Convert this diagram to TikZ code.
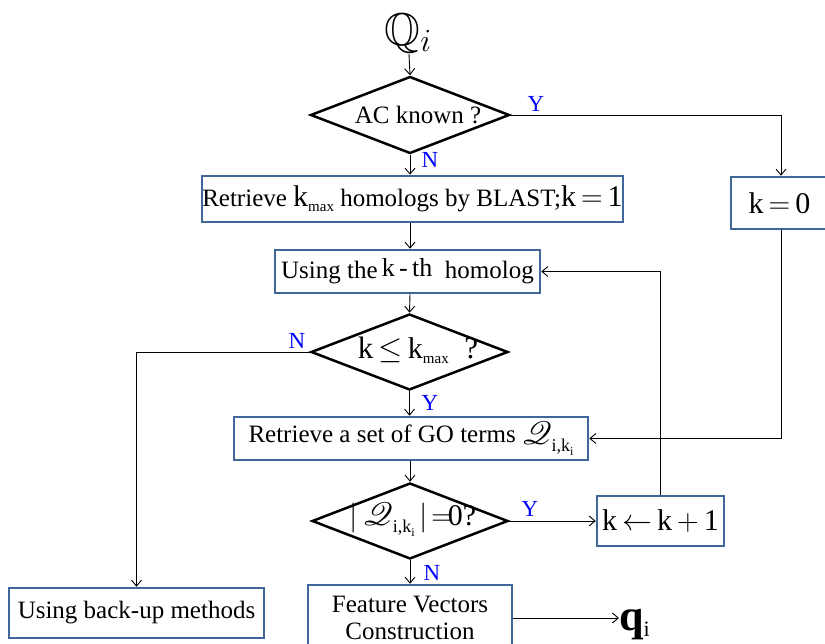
\RequirePackage{fix-cm}
\documentclass[tikz,border=0pt]{standalone}
\usepackage{amssymb}
\usepackage{mathrsfs}
\usepackage{fontspec}
\setmainfont{Liberation Serif}
\usetikzlibrary{shapes.geometric,arrows.meta}
\definecolor{boxblue}{HTML}{41679A}
\definecolor{lblblue}{HTML}{0000FF}
\newcommand{\fs}[1]{\fontsize{#1}{#1}\selectfont}
\newcommand{\kmaxtxt}{{\fs{30}k}\raisebox{-5pt}{\fs{15}max}}
\newcommand{\qik}{\scalebox{1.3}{\fs{24.88}$\mathscr{Q}$}\raisebox{-7pt}{\fs{18}i,k\raisebox{-4pt}{\fs{12}i}}}
\tikzset{
  box/.style={draw=boxblue, line width=2.5pt, inner sep=0pt, font=\fs{25}},
  dia/.style={diamond, draw=black, line width=2.5pt, aspect=2.55, inner sep=0pt},
  conn/.style={line width=0.9pt, -{Straight Barb[length=6pt,width=10pt,line width=0.9pt]}},
  lbl/.style={text=lblblue, font=\fs{23}, inner sep=0pt}
}
\begin{document}
\begin{tikzpicture}[x=1pt,y=-1pt]
\useasboundingbox (0,0) rectangle (825,644);
\clip (0,0) rectangle (825,644);
\fill[white] (0,0) rectangle (825,644);
% nodes
\node[inner sep=1pt] (q) at (408,33) {\fs{46}$\mathbb{Q}_{i}$};
\node[dia, minimum width=199pt, minimum height=77pt] (d1) at (410,115) {};
\node[font=\fs{25}] at (418,115) {AC known ?};
\node[box, minimum width=421pt, minimum height=46pt] (b1) at (412.5,199)
  {Retrieve \kmaxtxt\ homologs by BLAST;{\fs{30}k\,$=$\,1}};
\node[box, minimum width=100pt, minimum height=52pt, font=\fs{30}] (k0) at (781,203) {k\,$=$\,0\hspace*{3pt}};
\node[box, minimum width=265pt, minimum height=43pt] (b2) at (407.5,271.5)
  {Using the\,\raisebox{2pt}{\fs{26}k\,-\,th}\enspace homolog};
\node[dia, minimum width=197pt, minimum height=76pt] (d2) at (409.5,352) {};
\node[font=\fs{31}] at (418,350) {k\,$\leq$\,\kmaxtxt\enspace ?};
\node[box, minimum width=354pt, minimum height=43pt] (b3) at (411,438.5)
  {Retrieve a set of GO terms \raisebox{-2pt}{\qik}};
\node[dia, minimum width=196pt, minimum height=76pt] (d3) at (410,521) {};
\node[font=\fs{30}] at (413,520) {$|$\,\qik\,$|\!=\!$0?};
\node[box, minimum width=127pt, minimum height=50pt, font=\fs{30}] (kk) at (660.5,521) {k\,$\leftarrow$\,k\,$+$\,1};
\node[box, minimum width=204pt, minimum height=66pt, align=center] (fv) at (410,618)
  {Feature Vectors\\[2pt]Construction};
\node[box, minimum width=255pt, minimum height=50pt] (bu) at (136.5,613) {Using back-up methods};
\node[anchor=base west, inner sep=0pt] (qi) at (619,630) {\fs{44}\bfseries q\fs{22}\mdseries\raisebox{-6pt}{i}};
% connectors
\draw[conn] (q) -- (d1.north);
\draw[conn] (d1.south) -- (d1.south |- b1.north);
\draw[conn] (d1.east) -| (k0.north);
\draw[conn] (b1.south -| d1.south) -- (b2.north -| d1.south);
\draw[conn] (b2.south -| d1.south) -- (d2.north);
\draw[conn] (d2.west) -| (bu.north);
\draw[conn] (d2.south) -- (d2.south |- b3.north);
\draw[conn] (k0.south) |- (b3.east);
\draw[conn] (b3.south -| d1.south) -- (d3.north);
\draw[conn] (d3.east) -- (kk.west);
\draw[conn] (kk.north) |- (b2.east);
\draw[conn] (d3.south) -- (d3.south |- fv.north);
\draw[conn] (fv.east) -- (fv.east -| qi.west);
% labels
\node[lbl] at (536,104) {Y};
\node[lbl] at (430,160) {N};
\node[lbl] at (297,341) {N};
\node[lbl] at (430,403) {Y};
\node[lbl] at (530,509) {Y};
\node[lbl] at (432,573) {N};
\end{tikzpicture}
\end{document}
